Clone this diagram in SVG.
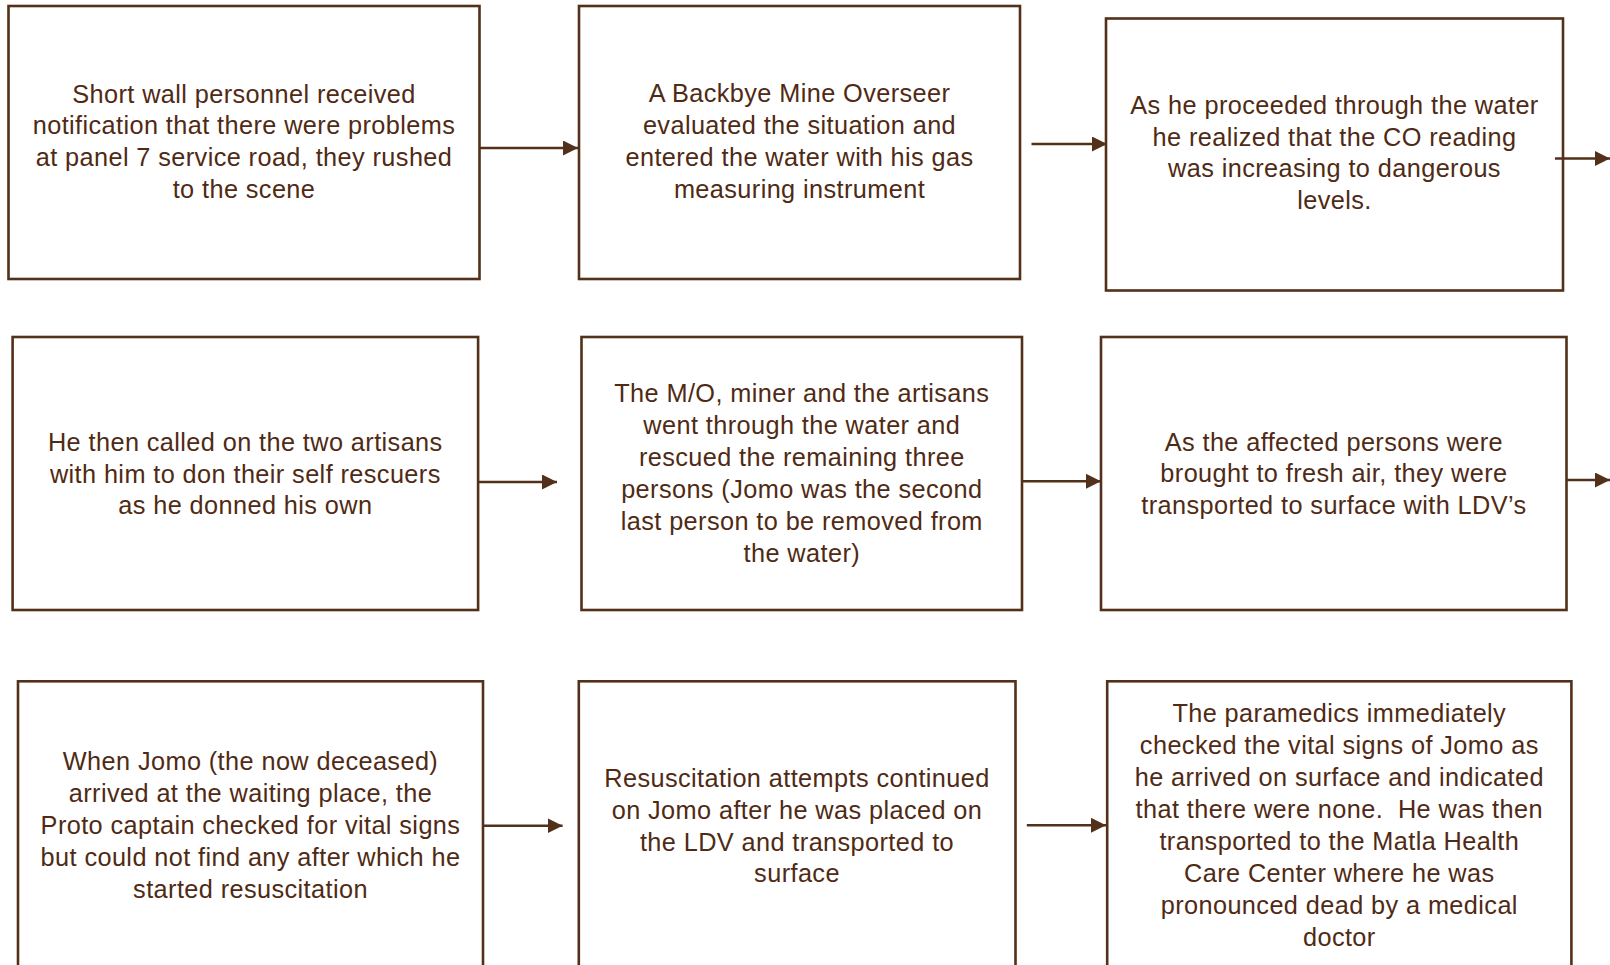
<svg xmlns="http://www.w3.org/2000/svg" width="1610" height="965" viewBox="0 0 1610 965">
<defs>
<style>
.box{fill:#ffffff;stroke:#53301a;stroke-width:2.6}
.t{font-family:"Liberation Sans",Arial,sans-serif;font-size:25.3px;letter-spacing:0.4px;fill:#4f2a14;text-anchor:middle}
.c{stroke:#53301a;stroke-width:2.4;fill:none}
</style>
<marker id="ah" markerUnits="userSpaceOnUse" markerWidth="15" markerHeight="15" refX="15" refY="7.5" orient="auto">
<path d="M0,0 L15,7.5 L0,15 z" fill="#53301a"/>
</marker>
</defs>
<rect width="1610" height="965" fill="#ffffff"/>
<g id="n1">
<rect class="box" x="8.5" y="6" width="471" height="273"/>
<text class="t"><tspan x="244" y="102.5">Short wall personnel  received</tspan><tspan x="244" y="134.3">notification that there were problems</tspan><tspan x="244" y="166.1">at panel 7 service road, they rushed</tspan><tspan x="244" y="197.9">to the scene</tspan></text>
</g>
<g id="n2">
<rect class="box" x="579" y="6" width="441" height="273"/>
<text class="t"><tspan x="799.5" y="102">A Backbye Mine Overseer</tspan><tspan x="799.5" y="134">evaluated the situation and</tspan><tspan x="799.5" y="165.8">entered the water with his gas</tspan><tspan x="799.5" y="197.7">measuring instrument</tspan></text>
</g>
<g id="n3">
<rect class="box" x="1106" y="18.5" width="457" height="272"/>
<text class="t"><tspan x="1334.5" y="114.3">As he proceeded through the water</tspan><tspan x="1334.5" y="145.8">he realized that the CO reading</tspan><tspan x="1334.5" y="177.4">was increasing to dangerous</tspan><tspan x="1334.5" y="209.2">levels.</tspan></text>
</g>
<g id="n4">
<rect class="box" x="12.6" y="337" width="465.5" height="273"/>
<text class="t"><tspan x="245.3" y="451">He then called on the two artisans</tspan><tspan x="245.3" y="482.7">with him to don their self rescuers</tspan><tspan x="245.3" y="514.3">as he donned his own</tspan></text>
</g>
<g id="n5">
<rect class="box" x="581.5" y="337" width="440.5" height="273"/>
<text class="t"><tspan x="801.8" y="402.3">The M/O, miner and the artisans</tspan><tspan x="801.8" y="434.3">went through the water and</tspan><tspan x="801.8" y="466">rescued the remaining  three</tspan><tspan x="801.8" y="497.8">persons (Jomo was the second</tspan><tspan x="801.8" y="529.8">last person to be removed from</tspan><tspan x="801.8" y="561.8">the water)</tspan></text>
</g>
<g id="n6">
<rect class="box" x="1101" y="337" width="465.5" height="273"/>
<text class="t"><tspan x="1333.9" y="450.7">As the affected persons were</tspan><tspan x="1333.9" y="482.4">brought to fresh air, they were</tspan><tspan x="1333.9" y="514">transported to surface with LDV’s</tspan></text>
</g>
<g id="n7">
<rect class="box" x="18" y="681.3" width="465" height="330"/>
<text class="t"><tspan x="250.5" y="770">When Jomo (the now deceased)</tspan><tspan x="250.5" y="802.2">arrived at the waiting place, the</tspan><tspan x="250.5" y="834">Proto captain checked for vital signs</tspan><tspan x="250.5" y="865.8">but could not find any after which he</tspan><tspan x="250.5" y="897.8">started resuscitation</tspan></text>
</g>
<g id="n8">
<rect class="box" x="578.8" y="681.3" width="436.7" height="330"/>
<text class="t"><tspan x="797" y="786.7">Resuscitation attempts continued</tspan><tspan x="797" y="818.6">on Jomo after he was placed on</tspan><tspan x="797" y="850.5">the LDV and transported to</tspan><tspan x="797" y="882.3">surface</tspan></text>
</g>
<g id="n9">
<rect class="box" x="1107.2" y="681.3" width="464.2" height="330"/>
<text class="t" xml:space="preserve"><tspan x="1339.3" y="722.3">The paramedics immediately</tspan><tspan x="1339.3" y="754.2">checked the vital signs of Jomo as</tspan><tspan x="1339.3" y="786.1">he arrived on surface and indicated</tspan><tspan x="1339.3" y="818">that there were none.  He was then</tspan><tspan x="1339.3" y="849.9">transported to the Matla Health</tspan><tspan x="1339.3" y="881.8">Care Center where he was</tspan><tspan x="1339.3" y="913.7">pronounced dead by a medical</tspan><tspan x="1339.3" y="945.6">doctor</tspan></text>
</g>
<g id="connectors">
<line class="c" x1="480" y1="148" x2="578" y2="148" marker-end="url(#ah)"/>
<line class="c" x1="1031.5" y1="144" x2="1107" y2="144" marker-end="url(#ah)"/>
<line class="c" x1="1555" y1="158.5" x2="1610" y2="158.5" marker-end="url(#ah)"/>
<line class="c" x1="478" y1="482" x2="557" y2="482" marker-end="url(#ah)"/>
<line class="c" x1="1022" y1="481.3" x2="1101" y2="481.3" marker-end="url(#ah)"/>
<line class="c" x1="1567" y1="480" x2="1610" y2="480" marker-end="url(#ah)"/>
<line class="c" x1="483" y1="825.7" x2="562.6" y2="825.7" marker-end="url(#ah)"/>
<line class="c" x1="1026.8" y1="825.3" x2="1106" y2="825.3" marker-end="url(#ah)"/>
</g>
</svg>
